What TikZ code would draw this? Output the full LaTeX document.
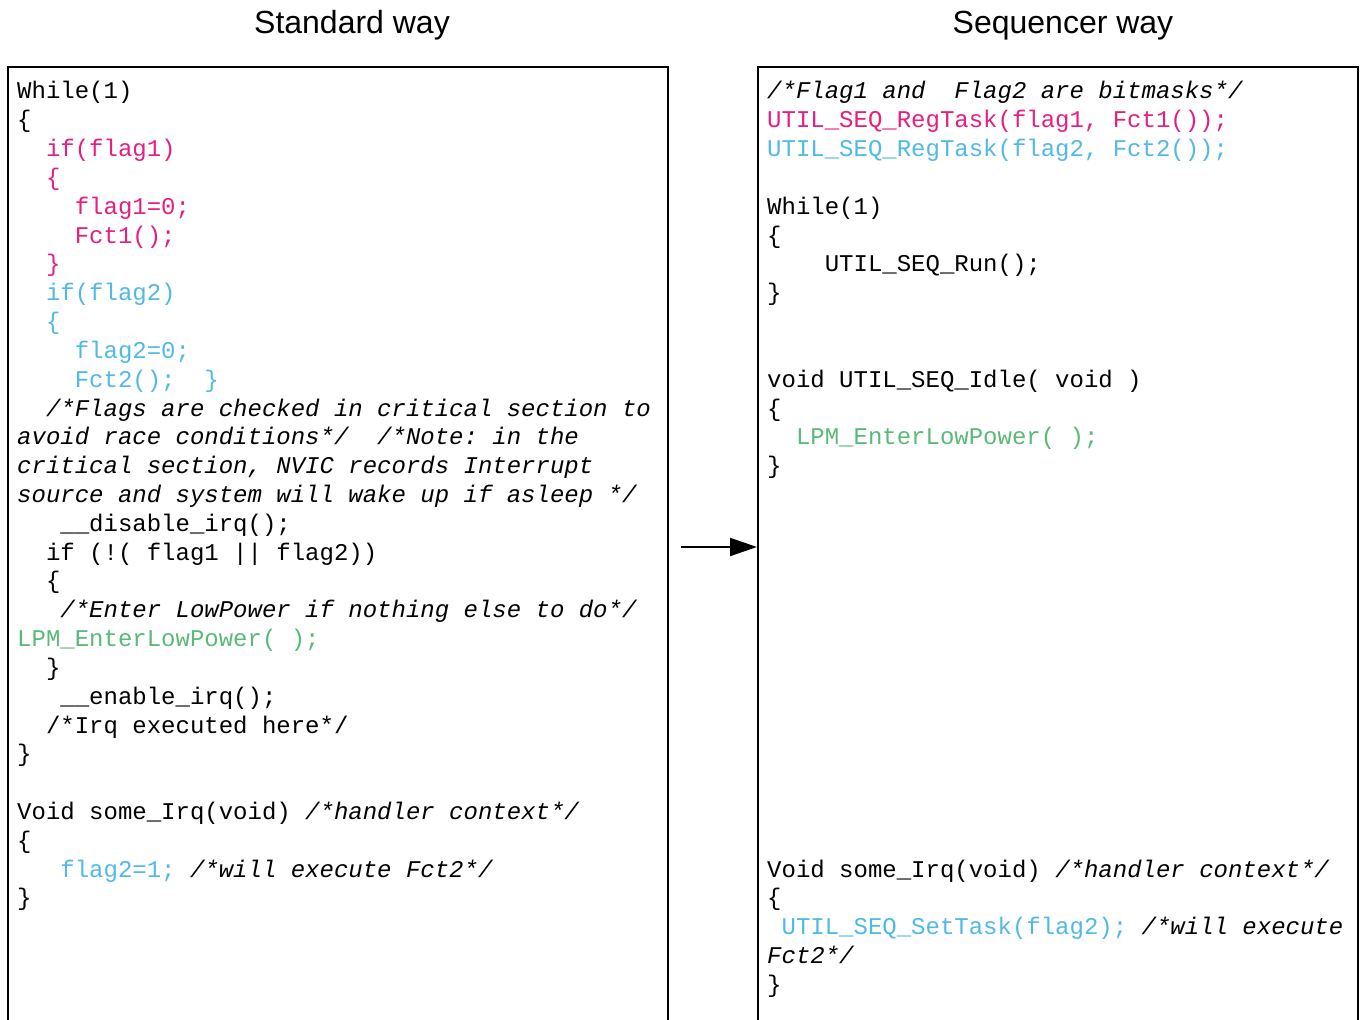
\documentclass[tikz,border=0pt]{standalone}
\usepackage{fontspec}
\usepackage{tikz}
\usetikzlibrary{arrows.meta}

\newfontfamily\codefont{Liberation Mono}
\newfontfamily\titlefont{Liberation Sans}

\definecolor{codepink}{RGB}{230,30,125}
\definecolor{codeblue}{RGB}{80,185,230}
\definecolor{codegreen}{RGB}{90,185,120}

\newcommand{\pinkc}[1]{\textcolor{codepink}{#1}}
\newcommand{\bluec}[1]{\textcolor{codeblue}{#1}}
\newcommand{\greenc}[1]{\textcolor{codegreen}{#1}}
\newcommand{\cmt}[1]{\textit{#1}}

\tikzset{
  panel/.style={draw, line width=2pt, anchor=north west, inner sep=0pt},
  codeline/.style={anchor=base west, inner sep=0pt,
    font=\codefont\fontsize{24}{28.8}\selectfont\frenchspacing},
  heading/.style={anchor=base, inner sep=0pt,
    font=\titlefont\fontsize{32}{38}\selectfont},
  flow/.style={-{Triangle[length=27pt,width=18pt]}, line width=2pt}
}

\begin{document}
\begin{tikzpicture}[x=1pt, y=-1pt]
    \useasboundingbox (0,0) rectangle (1364,1019);
    \clip (0,0) rectangle (1364,1019);

    % Titles
    \node[heading] (stdtitle) at (352,34) {Standard way};
    \node[heading] (seqtitle) at (1063,34) {Sequencer way};

    % Panels
    \node[panel, minimum width=660pt, minimum height=960pt] (stdbox) at (7,66) {};
    \node[panel, minimum width=600pt, minimum height=960pt] (seqbox) at (757,66) {};

    % Standard way code
    \foreach \i/\txt in {
        0/{While(1)},
        1/{\{},
        2/{\pinkc{~~if(flag1)}},
        3/{\pinkc{~~\{}},
        4/{\pinkc{~~~~flag1=0;}},
        5/{\pinkc{~~~~Fct1();}},
        6/{\pinkc{~~\}}},
        7/{\bluec{~~if(flag2)}},
        8/{\bluec{~~\{}},
        9/{\bluec{~~~~flag2=0;}},
        10/{\bluec{~~~~Fct2();~~\}}},
        11/{\cmt{~~/*Flags are checked in critical section to}},
        12/{\cmt{avoid race conditions*/~~/*Note: in the}},
        13/{\cmt{critical section, NVIC records Interrupt}},
        14/{\cmt{source and system will wake up if asleep */}},
        15/{~~~\_\_disable\_irq();},
        16/{~~if (!( flag1 || flag2))},
        17/{~~\{},
        18/{\cmt{~~~/*Enter LowPower if nothing else to do*/}},
        19/{\greenc{LPM\_EnterLowPower( );}},
        20/{~~\}},
        21/{~~~\_\_enable\_irq();},
        22/{~~/*Irq executed here*/},
        23/{\}},
        25/{Void some\_Irq(void) \cmt{/*handler context*/}},
        26/{\{},
        27/{\bluec{~~~flag2=1;}\cmt{~/*will execute Fct2*/}},
        28/{\}}
    }
        \node[codeline] (std\i) at (17,{99+28.82*\i}) {\txt};

    % Sequencer way code
    \foreach \i/\txt in {
        0/{\cmt{/*Flag1 and~~Flag2 are bitmasks*/}},
        1/{\pinkc{UTIL\_SEQ\_RegTask(flag1, Fct1());}},
        2/{\bluec{UTIL\_SEQ\_RegTask(flag2, Fct2());}},
        4/{While(1)},
        5/{\{},
        6/{~~~~UTIL\_SEQ\_Run();},
        7/{\}},
        10/{void UTIL\_SEQ\_Idle( void )},
        11/{\{},
        12/{\greenc{~~LPM\_EnterLowPower( );}},
        13/{\}},
        27/{Void some\_Irq(void) \cmt{/*handler context*/}},
        28/{\{},
        29/{\bluec{~UTIL\_SEQ\_SetTask(flag2);}\cmt{~/*will execute}},
        30/{\cmt{Fct2*/}},
        31/{\}}
    }
        \node[codeline] (seq\i) at (767,{99+28.82*\i}) {\txt};

    % Connect the panels
    \draw[flow] ([xshift=12pt]stdbox.east) -- (seqbox.west);
\end{tikzpicture}
\end{document}
